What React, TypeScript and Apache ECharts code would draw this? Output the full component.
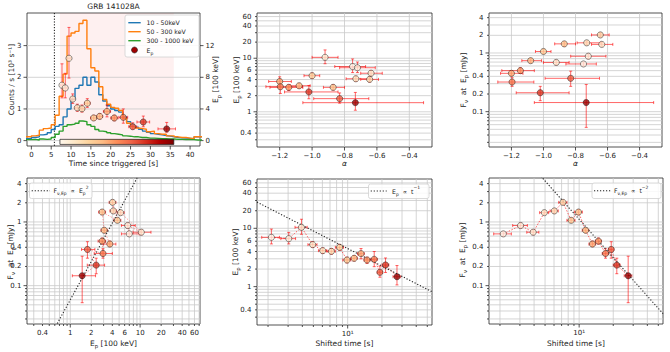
import React, { useEffect, useRef } from "react";
import * as echarts from "echarts";

const FONT = "DejaVu Sans";

// ---------------- light curve (1 s bins) ----------------
const lcBinStart = [-2, -1, 0, 1, 2, 3, 4, 5, 6, 7, 8, 9, 10, 11, 12, 13, 14, 15, 16, 17, 18, 19, 20, 21, 22, 23, 24, 25, 26, 27, 28, 29, 30, 31, 32, 33, 34, 35, 36, 37, 38, 39, 40, 41, 42];
const lcBinEnd = 43;
const rate10to50 = [0.06, 0.06, 0.1, 0.12, 0.18, 0.2, 0.25, 0.35, 0.45, 0.5, 0.75, 1.0, 1.3, 1.65, 1.75, 2.0, 1.75, 2.0, 1.85, 1.45, 1.25, 1.1, 1.0, 0.95, 0.9, 0.75, 0.6, 0.5, 0.42, 0.36, 0.3, 0.26, 0.22, 0.2, 0.18, 0.16, 0.14, 0.12, 0.1, 0.09, 0.08, 0.07, 0.06, 0.12, 0.12];
const rate50to300 = [0.12, 0.12, 0.15, 0.17, 0.33, 0.38, 0.4, 0.5, 0.8, 1.4, 2.1, 3.3, 3.4, 3.45, 3.7, 3.8, 2.9, 2.3, 2.2, 1.7, 1.3, 1.15, 1.05, 1.02, 0.95, 0.7, 0.55, 0.45, 0.4, 0.38, 0.36, 0.28, 0.3, 0.22, 0.2, 0.2, 0.15, 0.15, 0.12, 0.1, 0.1, 0.08, 0.06, 0.12, 0.12];
const rate300to1000 = [0.03, 0.03, 0.04, 0.02, 0.05, 0.04, 0.05, 0.1, 0.2, 0.3, 0.45, 0.5, 0.52, 0.55, 0.62, 0.6, 0.5, 0.45, 0.35, 0.3, 0.28, 0.25, 0.22, 0.2, 0.18, 0.15, 0.14, 0.12, 0.12, 0.1, 0.1, 0.08, 0.08, 0.07, 0.06, 0.06, 0.05, 0.05, 0.04, 0.04, 0.03, 0.03, 0.03, 0.02, 0.02];

// ---------------- time-resolved spectral fits ----------------
const fitTime = [7.72, 8.55, 9.48, 10.42, 11.58, 12.76, 14.1, 15.71, 17.22, 19.06, 20.9, 23.17, 25.54, 28.21, 34.11];
const fitTimeErr = [0.35, 0.4, 0.45, 0.45, 0.55, 0.6, 0.7, 0.8, 0.75, 0.9, 0.9, 1.1, 1.0, 1.6, 2.2];
const shiftedTime = [2.14, 3.04, 3.93, 4.93, 6.04, 7.2, 8.5, 9.87, 11.4, 13.1, 14.8, 17.1, 19.2, 21.5, 27.1];
const shiftedTimeErr = [0.38, 0.45, 0.48, 0.45, 0.5, 0.6, 0.7, 0.8, 0.75, 0.9, 0.9, 1.1, 1.0, 1.5, 2.1];
const epeak = [7.0, 6.65, 10.4, 5.25, 4.14, 4.03, 4.72, 2.86, 3.06, 3.68, 2.86, 2.94, 1.76, 2.35, 1.48];
const epeakLo = [5.4, 5.4, 7.9, 4.7, 3.7, 3.6, 4.2, 2.55, 2.75, 3.0, 2.5, 2.2, 1.45, 1.75, 1.07];
const epeakHi = [9.7, 8.5, 14.3, 5.9, 4.6, 4.5, 5.3, 3.2, 3.4, 4.5, 3.2, 4.0, 2.25, 3.1, 2.3];
const alpha = [-0.75, -0.72, -0.92, -0.636, -0.73, -0.645, -1.0, -0.87, -1.08, -1.2, -1.144, -1.196, -0.83, -1.02, -0.733];
const alphaLo = [-0.86, -0.83, -1.0, -0.7, -0.79, -0.7, -1.05, -0.93, -1.135, -1.268, -1.26, -1.285, -0.99, -1.17, -1.057];
const alphaHi = [-0.67, -0.61, -0.84, -0.567, -0.64, -0.59, -0.953, -0.8, -1.012, -1.128, -1.057, -1.06, -0.65, -0.84, -0.312];
const fluxEp = [0.65, 0.88, 0.69, 1.4, 1.49, 2.03, 1.06, 1.43, 0.74, 0.45, 0.5, 0.32, 0.37, 0.21, 0.143];
const fluxEpLo = [0.6, 0.8, 0.63, 1.3, 1.38, 1.88, 0.98, 1.3, 0.68, 0.41, 0.45, 0.27, 0.27, 0.154, 0.054];
const fluxEpHi = [0.7, 0.96, 0.75, 1.5, 1.6, 2.2, 1.15, 1.55, 0.8, 0.5, 0.56, 0.38, 0.49, 0.27, 0.29];

const triggerLine = 5.8; // s
const intervalRange = [7.2, 35.9]; // s, shaded region & colour bar
const cbarCounts = [0.04, -0.12];

// power-law guides
const normEp2 = 0.06; // F = norm * Ep^2
const normEpT = 45; // Ep = norm / t
const normFT = 110; // F = norm / t^2

// ---------------- tick labels ----------------
const timeTicks = [0, 5, 10, 15, 20, 25, 30, 35, 40];
const countTicks = [0, 1, 2, 3];
const epLinTicks = [0, 4, 8, 12];
const alphaTicks = [-1.2, -1.0, -0.8, -0.6, -0.4];
const epLogLabels = [0.4, 1, 2, 4, 6, 10, 20, 40, 60];
const fluxLabels = [0.1, 0.2, 0.4, 1, 2, 4];
const shiftedLabels = [10];

// ---------------- axis ranges ----------------
const T_RANGE = [-1.1, 42.5];
const C_RANGE = [-0.17, 4.03];
const EPLIN_RANGE = [-0.68, 16.12];
const A_RANGE = [-1.34, -0.26];
const EP_RANGE = [0.22, 70];
const EPX_RANGE = [0.24, 72];
const F_RANGE_TOP = [0.025, 4.8];
const F_RANGE = [0.025, 4.9];
const TS_RANGE = [1.6, 55];

const ORRD = ["#fff7ec", "#fee8c8", "#fdd49e", "#fdbb84", "#fc8d59", "#ef6548", "#d7301f", "#b30000", "#7f0000"];
function hexRgb(h: string) {
  return [parseInt(h.slice(1, 3), 16), parseInt(h.slice(3, 5), 16), parseInt(h.slice(5, 7), 16)];
}
function cmap(f: number) {
  const c = Math.min(1, Math.max(0, f)) * (ORRD.length - 1);
  const i = Math.min(ORRD.length - 2, Math.floor(c));
  const r = c - i;
  const a = hexRgb(ORRD[i]);
  const b = hexRgb(ORRD[i + 1]);
  const m = a.map((v, k) => Math.round(v + (b[k] - v) * r));
  return `rgb(${m[0]},${m[1]},${m[2]})`;
}
const pointColors = fitTime.map((t) => cmap((t - intervalRange[0]) / (intervalRange[1] - intervalRange[0])));

const GRID_STYLE = { stroke: "#c9c9c9", lineWidth: 0.8 };
const TICK_STYLE = { stroke: "#262626", lineWidth: 0.8 };
const ERR_COLOR = "rgba(255,0,0,0.6)";

function logAll(min: number, max: number) {
  const out: number[] = [];
  for (let e = Math.floor(Math.log10(min)); e <= Math.ceil(Math.log10(max)); e++) {
    for (let k = 1; k <= 9; k++) {
      const v = +(k * Math.pow(10, e)).toPrecision(6);
      if (v > min * 1.0001 && v < max * 0.9999) out.push(v);
    }
  }
  return out;
}
function isDecade(v: number) {
  const l = Math.log10(v);
  return Math.abs(l - Math.round(l)) < 1e-6;
}
function ln(x1: number, y1: number, x2: number, y2: number, style: any) {
  return { type: "line", silent: true, shape: { x1, y1, x2, y2 }, style };
}
function txt(x: number, y: number, text: string, align: string, va: string) {
  return {
    type: "text",
    silent: true,
    x,
    y,
    style: { text, fill: "#222", fontSize: 7, fontFamily: FONT, align, verticalAlign: va },
  };
}
function fmtNum(v: number) {
  if (v < 0) return "\u2212" + Math.abs(v).toFixed(1);
  return String(v);
}

type AxisDef = { kind: "lin" | "log"; ticks?: number[]; labels: [number, string][]; grid: boolean };

function makeFrame(xr: number[], yr: number[], xa: AxisDef | null, ya: AxisDef | null, ySide: "left" | "right", extra?: (api: any, cs: any) => any[]) {
  return (params: any, api: any) => {
    const cs = params.coordSys;
    const left = cs.x;
    const top = cs.y;
    const right = cs.x + cs.width;
    const bottom = cs.y + cs.height;
    const px = (v: number) => api.coord([v, yr[0]])[0];
    const py = (v: number) => api.coord([xr[0], v])[1];
    const ch: any[] = [];
    if (extra) ch.push(...extra(api, cs));
    if (xa) {
      const all = xa.kind === "log" ? logAll(xr[0], xr[1]) : xa.ticks || [];
      for (const v of all) {
        const X = px(v);
        const major = xa.kind === "lin" || isDecade(v);
        if (xa.grid) ch.push(ln(X, top, X, bottom, GRID_STYLE));
        ch.push(ln(X, bottom, X, bottom + (major ? 3.5 : 2), TICK_STYLE));
      }
      for (const [v, t] of xa.labels) ch.push(txt(px(v), bottom + 5, t, "center", "top"));
    }
    if (ya) {
      const all = ya.kind === "log" ? logAll(yr[0], yr[1]) : ya.ticks || [];
      for (const v of all) {
        const Y = py(v);
        const major = ya.kind === "lin" || isDecade(v);
        if (ya.grid) ch.push(ln(left, Y, right, Y, GRID_STYLE));
        const len = major ? 3.5 : 2;
        if (ySide === "left") ch.push(ln(left - len, Y, left, Y, TICK_STYLE));
        else ch.push(ln(right, Y, right + len, Y, TICK_STYLE));
      }
      for (const [v, t] of ya.labels) {
        if (ySide === "left") ch.push(txt(left - 5.5, py(v), t, "right", "middle"));
        else ch.push(txt(right + 5.5, py(v), t, "left", "middle"));
      }
    }
    return { type: "group", children: ch };
  };
}

function frameSeries(xi: number, yi: number, xr: number[], yr: number[], xa: AxisDef | null, ya: AxisDef | null, ySide: "left" | "right", extra?: any) {
  const mid = [xr[0] > 0 ? Math.sqrt(xr[0] * xr[1]) : (xr[0] + xr[1]) / 2, yr[0] > 0 ? Math.sqrt(yr[0] * yr[1]) : (yr[0] + yr[1]) / 2];
  return {
    type: "custom",
    xAxisIndex: xi,
    yAxisIndex: yi,
    silent: true,
    z: 1,
    clip: false,
    data: [mid],
    renderItem: makeFrame(xr, yr, xa, ya, ySide, extra),
  };
}

function errRender(params: any, api: any) {
  const x = api.value(0);
  const y = api.value(1);
  const pl = api.coord([api.value(2), y]);
  const pr = api.coord([api.value(3), y]);
  const pb = api.coord([x, api.value(4)]);
  const pt = api.coord([x, api.value(5)]);
  const st = { stroke: ERR_COLOR, lineWidth: 1 };
  const c = 1.5;
  return {
    type: "group",
    children: [
      ln(pl[0], pl[1], pr[0], pr[1], st),
      ln(pb[0], pb[1], pt[0], pt[1], st),
      ln(pl[0], pl[1] - c, pl[0], pl[1] + c, st),
      ln(pr[0], pr[1] - c, pr[0], pr[1] + c, st),
      ln(pb[0] - c, pb[1], pb[0] + c, pb[1], st),
      ln(pt[0] - c, pt[1], pt[0] + c, pt[1], st),
    ],
  };
}

function pointSeries(xi: number, yi: number, xs: number[], xlo: number[], xhi: number[], ys: number[], ylo: number[], yhi: number[], connect: boolean, connectAlpha = 0.65) {
  const out: any[] = [];
  out.push({
    type: "custom",
    xAxisIndex: xi,
    yAxisIndex: yi,
    z: 4,
    silent: true,
    clip: true,
    dimensions: ["x", "y", "x0", "x1", "y0", "y1"],
    encode: { x: [0, 2, 3], y: [1, 4, 5] },
    data: xs.map((x, i) => [x, ys[i], xlo[i], xhi[i], ylo[i], yhi[i]]),
    renderItem: errRender,
  });
  if (connect) {
    out.push({
      type: "line",
      xAxisIndex: xi,
      yAxisIndex: yi,
      z: 3,
      silent: true,
      symbol: "none",
      data: xs.map((x, i) => [x, ys[i]]),
      lineStyle: { color: `rgba(255,20,20,${connectAlpha})`, width: 1, type: [1.5, 1.5] },
    });
  }
  out.push({
    type: "scatter",
    xAxisIndex: xi,
    yAxisIndex: yi,
    z: 6,
    silent: true,
    symbolSize: 6.2,
    data: xs.map((x, i) => ({ value: [x, ys[i]], itemStyle: { color: pointColors[i], borderColor: "#1a1a1a", borderWidth: 0.6 } })),
  });
  return out;
}

function guide(xi: number, yi: number, pts: number[][]) {
  return {
    type: "line",
    xAxisIndex: xi,
    yAxisIndex: yi,
    z: 5,
    silent: true,
    symbol: "none",
    clip: true,
    data: pts,
    lineStyle: { color: "#222", width: 1.1, type: [1.2, 1.8] },
  };
}

function richStyles(fs: number) {
  const base = { fontSize: fs, fontFamily: FONT, fill: "#222", lineHeight: fs + 4 };
  return {
    n: base,
    i: { ...base, fontStyle: "italic" },
    s: { fontSize: fs * 0.72, fontFamily: FONT, fill: "#222", lineHeight: fs * 0.72, verticalAlign: "bottom" },
    u: { fontSize: fs * 0.72, fontFamily: FONT, fill: "#222", lineHeight: fs * 0.72, verticalAlign: "top" },
  };
}
function label(x: number, y: number, text: string, rotate = false, fs = 7.5, align = "center") {
  return {
    type: "text",
    x,
    y,
    rotation: rotate ? Math.PI / 2 : 0,
    silent: true,
    style: { text, align, verticalAlign: "middle", rich: richStyles(fs), fill: "#222", fontSize: fs, fontFamily: FONT },
  };
}

function buildOption() {
  const grids = [
    { left: 27, top: 13, width: 173, height: 133 },
    { left: 257, top: 13, width: 175, height: 134 },
    { left: 489, top: 13, width: 173, height: 134 },
    { left: 27, top: 178, width: 173, height: 146 },
    { left: 257, top: 179, width: 175, height: 146 },
    { left: 489, top: 178, width: 174, height: 146 },
  ].map((g) => ({ ...g, show: true, borderColor: "#262626", borderWidth: 0.8, backgroundColor: "transparent", containLabel: false }));

  const ax = (type: string, gridIndex: number, r: number[]) => ({ type, gridIndex, min: r[0], max: r[1], show: false, ...(type === "log" ? { logBase: 10 } : {}) });
  const xAxis = [ax("value", 0, T_RANGE), ax("value", 1, A_RANGE), ax("value", 2, A_RANGE), ax("log", 3, EPX_RANGE), ax("log", 4, TS_RANGE), ax("log", 5, TS_RANGE)];
  const yAxis = [ax("value", 0, C_RANGE), ax("value", 0, EPLIN_RANGE), ax("log", 1, EP_RANGE), ax("log", 2, F_RANGE_TOP), ax("log", 3, F_RANGE), ax("log", 4, EP_RANGE), ax("log", 5, F_RANGE)];

  const epLogAxis: AxisDef = { kind: "log", labels: epLogLabels.map((v) => [v, String(v)] as [number, string]), grid: true };
  const fluxAxis: AxisDef = { kind: "log", labels: fluxLabels.map((v) => [v, String(v)] as [number, string]), grid: true };
  const alphaAxis: AxisDef = { kind: "lin", ticks: alphaTicks, labels: alphaTicks.map((v) => [v, fmtNum(v)] as [number, string]), grid: true };
  const tsAxis: AxisDef = { kind: "log", labels: shiftedLabels.map((v) => [v, "10\u00B9"] as [number, string]), grid: true };

  const p1Extra = (api: any, cs: any) => {
    const a = api.coord([intervalRange[0], C_RANGE[1]]);
    const b = api.coord([intervalRange[1], C_RANGE[0]]);
    const d = api.coord([triggerLine, 0])[0];
    return [
      { type: "rect", silent: true, shape: { x: a[0], y: cs.y, width: b[0] - a[0], height: cs.height }, style: { fill: "rgba(240,60,60,0.08)" } },
      ln(d, cs.y, d, cs.y + cs.height, { stroke: "#111", lineWidth: 1, lineDash: [1.2, 1.6] }),
    ];
  };

  const series: any[] = [
    frameSeries(0, 0, T_RANGE, C_RANGE, { kind: "lin", ticks: timeTicks, labels: timeTicks.map((v) => [v, String(v)] as [number, string]), grid: false }, { kind: "lin", ticks: countTicks, labels: countTicks.map((v) => [v, String(v)] as [number, string]), grid: true }, "left", p1Extra),
    frameSeries(0, 1, T_RANGE, EPLIN_RANGE, null, { kind: "lin", ticks: epLinTicks, labels: epLinTicks.map((v) => [v, String(v)] as [number, string]), grid: false }, "right"),
    frameSeries(1, 2, A_RANGE, EP_RANGE, alphaAxis, epLogAxis, "left"),
    frameSeries(2, 3, A_RANGE, F_RANGE_TOP, alphaAxis, fluxAxis, "left"),
    frameSeries(3, 4, EPX_RANGE, F_RANGE, epLogAxis, fluxAxis, "left"),
    frameSeries(4, 5, TS_RANGE, EP_RANGE, tsAxis, epLogAxis, "left"),
    frameSeries(5, 6, TS_RANGE, F_RANGE, tsAxis, fluxAxis, "left"),
  ];

  const curve = (vals: number[], color: string) => ({
    type: "line",
    xAxisIndex: 0,
    yAxisIndex: 0,
    step: "end",
    symbol: "none",
    z: 2,
    silent: true,
    clip: true,
    data: lcBinStart.map((t, i) => [t, vals[i]]).concat([[lcBinEnd, vals[vals.length - 1]]]),
    lineStyle: { color, width: 1.4 },
  });
  series.push(curve(rate10to50, "#1f77b4"), curve(rate50to300, "#ff7f0e"), curve(rate300to1000, "#2ca02c"));

  // colour bar of interval times
  series.push({
    type: "custom",
    xAxisIndex: 0,
    yAxisIndex: 0,
    z: 3,
    silent: true,
    data: [[(intervalRange[0] + intervalRange[1]) / 2, 0]],
    renderItem: (params: any, api: any) => {
      const a = api.coord([intervalRange[0], cbarCounts[0]]);
      const b = api.coord([intervalRange[1], cbarCounts[1]]);
      return {
        type: "rect",
        shape: { x: a[0], y: a[1], width: b[0] - a[0], height: b[1] - a[1] },
        style: {
          fill: new echarts.graphic.LinearGradient(0, 0, 1, 0, ORRD.map((c, i) => ({ offset: i / (ORRD.length - 1), color: c }))),
          stroke: "#1a1a1a",
          lineWidth: 0.7,
        },
      };
    },
  });

  const tLo = fitTime.map((t, i) => t - fitTimeErr[i]);
  const tHi = fitTime.map((t, i) => t + fitTimeErr[i]);
  const sLo = shiftedTime.map((t, i) => t - shiftedTimeErr[i]);
  const sHi = shiftedTime.map((t, i) => t + shiftedTimeErr[i]);

  series.push(...pointSeries(0, 1, fitTime, tLo, tHi, epeak, epeakLo, epeakHi, false));
  series.push(...pointSeries(1, 2, alpha, alphaLo, alphaHi, epeak, epeakLo, epeakHi, false));
  series.push(...pointSeries(2, 3, alpha, alphaLo, alphaHi, fluxEp, fluxEpLo, fluxEpHi, false));
  series.push(...pointSeries(3, 4, epeak, epeakLo, epeakHi, fluxEp, fluxEpLo, fluxEpHi, true, 0.4));
  series.push(...pointSeries(4, 5, shiftedTime, sLo, sHi, epeak, epeakLo, epeakHi, true));
  series.push(...pointSeries(5, 6, shiftedTime, sLo, sHi, fluxEp, fluxEpLo, fluxEpHi, true));

  series.push(guide(3, 4, [EPX_RANGE[0], EPX_RANGE[1]].map((e) => [e, normEp2 * e * e])));
  series.push(guide(4, 5, [TS_RANGE[0], TS_RANGE[1]].map((t) => [t, normEpT / t])));
  series.push(guide(5, 6, [TS_RANGE[0], TS_RANGE[1]].map((t) => [t, normFT / (t * t)])));

  const legBox = (x: number, y: number, w: number, h: number) => ({
    type: "rect",
    silent: true,
    shape: { x, y, width: w, height: h, r: 2 },
    style: { fill: "rgba(255,255,255,0.85)", stroke: "#d0d0d0", lineWidth: 0.8 },
    z: 20,
  });
  const legLine = (x1: number, x2: number, y: number, stroke: string, dotted = false) => ({
    type: "line",
    silent: true,
    shape: { x1, y1: y, x2, y2: y },
    style: { stroke, lineWidth: dotted ? 1.1 : 1.4, lineDash: dotted ? [1.2, 1.8] : null },
    z: 21,
  });
  const legText = (x: number, y: number, text: string) => ({ ...label(x, y, text, false, 6.2, "left"), z: 21 });

  const graphic: any[] = [
    label(113.5, 6.5, "{n|GRB 141028A}"),
    label(113.5, 163.5, "{n|Time since triggered [s]}"),
    label(11.5, 79.5, "{n|Counts / s [10\u00B3 s\u207B\u00B9]}", true),
    label(215.5, 79.5, "{n|E}{s|p}{n| [100 keV]}", true),
    label(344.5, 163.5, "{i|\u03B1}"),
    label(236, 80, "{n|E}{s|p}{n| [100 keV]}", true),
    label(575.5, 163.5, "{i|\u03B1}"),
    label(463, 80, "{n|F}{s|\u03BD}{n|  at  E}{s|p}{n| [mJy]}", true),
    label(113.5, 343, "{n|E}{s|p}{n| [100 keV]}"),
    label(10, 252, "{n|F}{s|\u03BD}{n|  at  E}{s|p}{n| [mJy]}", true),
    label(344.5, 343, "{n|Shifted time [s]}"),
    label(235, 252, "{n|E}{s|p}{n| [100 keV]}", true),
    label(576, 343, "{n|Shifted time [s]}"),
    label(462, 250, "{n|F}{s|\u03BD}{n|  at  E}{s|p}{n| [mJy]}", true),
    // legend panel 1
    legBox(125, 15, 74, 42),
    legLine(128.3, 140.7, 22.7, "#1f77b4"),
    legLine(128.3, 140.7, 31.7, "#ff7f0e"),
    legLine(128.3, 140.7, 40.7, "#2ca02c"),
    { type: "circle", silent: true, z: 21, shape: { cx: 134.5, cy: 50, r: 3 }, style: { fill: cmap(0.92), stroke: "#1a1a1a", lineWidth: 0.6 } },
    legText(146.5, 22.7, "{n|10 - 50keV}"),
    legText(146.5, 31.7, "{n|50 - 300 keV}"),
    legText(146.5, 40.7, "{n|300 - 1000 keV}"),
    legText(146.5, 50, "{n|E}{s|p}"),
    // legend panel 4
    legBox(29.5, 183, 62.5, 15.5),
    legLine(31.7, 50, 190.7, "#222", true),
    legText(53.5, 190.7, "{n|F}{s|\u03BD,Ep}{n|  \u221D  E}{s|p}{u|2}"),
    // legend panel 5
    legBox(368.5, 184, 60.5, 14.5),
    legLine(370.7, 386.7, 191, "#222", true),
    legText(392, 191, "{n|E}{s|p}{n|  \u221D  t}{u|\u22121}"),
    // legend panel 6
    legBox(592, 183, 69, 15.5),
    legLine(594, 610.7, 190.7, "#222", true),
    legText(614, 190.7, "{n|F}{s|\u03BD,Ep}{n|  \u221D  t}{u|\u22122}"),
  ];

  return {
    animation: false,
    backgroundColor: "#ffffff",
    grid: grids,
    xAxis,
    yAxis,
    series,
    graphic,
  };
}

export default function App() {
  const ref = useRef<HTMLDivElement>(null);
  useEffect(() => {
    const chart = echarts.init(ref.current as HTMLDivElement, null, { renderer: "svg" });
    chart.setOption(buildOption() as any);
    return () => chart.dispose();
  }, []);
  return <div ref={ref} style={{ position: "fixed", left: 0, top: 0, width: 670, height: 352, background: "#fff" }} />;
}
